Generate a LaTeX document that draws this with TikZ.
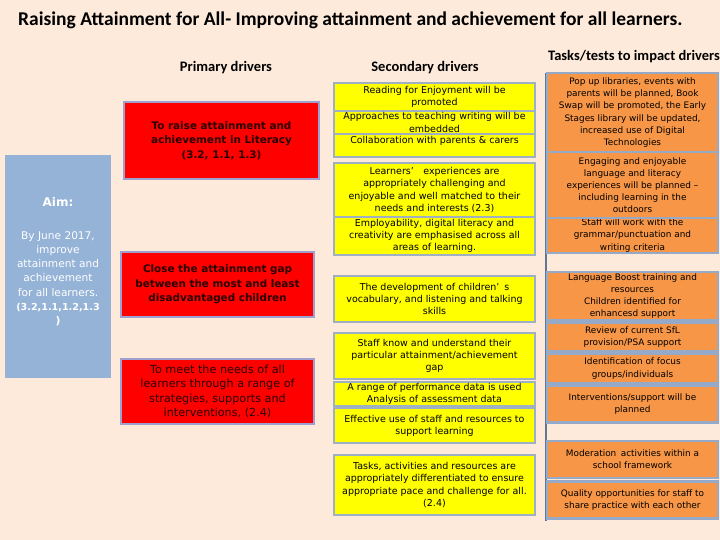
\documentclass[tikz,border=0pt]{standalone}
\usepackage{fontspec}
\setmainfont{DejaVu Sans}
\newfontfamily\carlito{Carlito}
\definecolor{bgpeach}{RGB}{253,234,219}
\definecolor{aimblue}{RGB}{149,179,215}
\definecolor{redfill}{RGB}{255,0,0}
\definecolor{redline}{RGB}{160,160,208}
\definecolor{yelfill}{RGB}{255,255,0}
\definecolor{yelline}{RGB}{160,176,196}
\definecolor{orfill}{RGB}{247,150,70}
\definecolor{orline}{RGB}{148,170,200}
\definecolor{vline}{RGB}{100,118,145}
\definecolor{redtext}{RGB}{40,0,0}
\tikzset{
  headtext/.style={font=\carlito\bfseries\fontsize{14.5}{17}\selectfont, text=black, inner sep=0pt},
  aimbox/.style={fill=aimblue, draw=none, inner sep=0pt},
  aimtext/.style={align=center, text=white, inner sep=0pt, font=\fontsize{10.6}{14.2}\selectfont},
  redbox/.style={fill=redfill, draw=redline, line width=2.5pt, inner sep=0pt, align=center, text=redtext},
  redbold/.style={font=\bfseries\fontsize{10.4}{14.5}\selectfont},
  redplain/.style={font=\fontsize{11.2}{14.3}\selectfont},
  ybox/.style={fill=yelfill, draw=yelline, line width=2.5pt, inner sep=0pt, align=center, text=black, font=\fontsize{9.5}{12.2}\selectfont, minimum width=201pt},
  obox/.style={fill=orfill, draw=orline, line width=2.5pt, inner sep=0pt, align=center, text=black, font=\fontsize{8.9}{12.1}\selectfont, minimum width=171pt},
}
\begin{document}
\begin{tikzpicture}[x=1pt,y=-1pt]
\fill[bgpeach] (0,0) rectangle (720,540);
\useasboundingbox (0,0) rectangle (720,540);

% title and headers
\node[anchor=west, inner sep=0pt, font=\carlito\bfseries\fontsize{19.5}{22}\selectfont] (title) at (18,20)
  {Raising Attainment for All- Improving attainment and achievement for all learners.};
\node[headtext] (hprim) at (226,68) {Primary drivers};
\node[headtext] (hsec) at (425,68) {Secondary drivers};
\node[headtext, anchor=west] (htask) at (548,57) {Tasks/tests to impact drivers};

% aim
\node[aimbox, minimum width=106pt, minimum height=223pt] (aim) at (58,266.5) {};
\node[aimtext] (aimt) at (58,261.5) {{\bfseries\fontsize{12}{14.2}\selectfont Aim:}\\[19pt]
  By June 2017,\\ improve\\ attainment and\\ achievement\\ for all learners.\\
  {\bfseries\fontsize{9.6}{14.2}\selectfont (3.2,1.1,1.2,1.3}\\ {\bfseries )}};

% primary drivers
\node[redbox, redbold, minimum width=195pt, minimum height=77pt] (p1) at (221.5,140.5)
  {To raise attainment and\\ achievement in Literacy\\ (3.2, 1.1, 1.3)};
\node[redbox, redbold, minimum width=193pt, minimum height=65pt] (p2) at (217.5,284.5)
  {Close the attainment gap\\ between the most and least\\ disadvantaged children};
\node[redbox, redplain, minimum width=193pt, minimum height=65pt] (p3) at (217.5,391.5)
  {To meet the needs of all\\ learners through a range of\\ strategies, supports and\\ interventions, (2.4)};

% secondary drivers
\node[ybox, minimum height=28pt] (sa) at (434.5,97) {Reading for Enjoyment will be\\ promoted};
\node[ybox, minimum height=23pt] (sb) at (434.5,122.5) {Approaches to teaching writing will be\\ embedded};
\node[ybox, minimum height=23pt] (sc) at (434.5,145.5) {};
\node[inner sep=0pt, font=\fontsize{9.5}{12.2}\selectfont] (sct) at (434.5,141) {Collaboration with parents \& carers};
\node[ybox, minimum height=54pt] (sd) at (434.5,190)
  {Learners'\quad experiences are\\ appropriately challenging and\\ enjoyable and well matched to their\\ needs and interests (2.3)};
\node[ybox, minimum height=38pt] (se) at (434.5,236)
  {Employability, digital literacy and\\ creativity are emphasised across all\\ areas of learning.};
\node[ybox, minimum height=46pt] (sf) at (434.5,299)
  {The development of children'\enspace s\\ vocabulary, and listening and talking\\ skills};
\node[ybox, minimum height=46pt] (sg) at (434.5,356)
  {Staff know and understand their\\ particular attainment/achievement\\ gap};
\node[ybox, minimum height=24pt] (sh) at (434.5,394)
  {A range of performance data is used\\ Analysis of assessment data};
\node[ybox, minimum height=35pt] (si) at (434.5,425.5)
  {Effective use of staff and resources to\\ support learning};
\node[ybox, minimum height=60pt] (sj) at (434.5,485)
  {Tasks, activities and resources are\\ appropriately differentiated to ensure\\ appropriate pace and challenge for all.\\ (2.4)};

% tasks
\coordinate (vtop) at (546,73);
\coordinate (vbot) at (546,521);
\draw[vline, line width=1.2pt] (vtop) -- (vbot);
\node[obox, minimum height=79pt] (t1) at (632.5,112.5)
  {Pop up libraries, events with\\ parents will be planned, Book\\ Swap will be promoted, the Early\\ Stages library will be updated,\\ increased use of Digital\\ Technologies};
\node[obox, minimum height=35pt] (t3) at (632.5,235.5)
  {Staff will work with the\\ grammar/punctuation and\\ writing criteria};
\node[obox, minimum height=66pt] (t2) at (632.5,185)
  {Engaging and enjoyable\\ language and literacy\\ experiences will be planned --\\ including learning in the\\ outdoors};
\node[obox, minimum height=48pt] (t4) at (632.5,296)
  {Language Boost training and\\ resources\\ Children identified for\\ enhancesd support};
\node[obox, minimum height=29pt] (t5) at (632.5,337)
  {Review of current SfL\\ provision/PSA support};
\node[obox, minimum height=30pt] (t6) at (632.5,368.5)
  {Identification of focus\\ groups/individuals};
\node[obox, minimum height=37pt] (t7) at (632.5,404)
  {Interventions/support will be\\ planned};
\node[obox, minimum height=37pt] (t8) at (632.5,459.5)
  {Moderation\enspace activities within a\\ school framework};
\node[obox, minimum height=37pt] (t9) at (632.5,500)
  {Quality opportunities for staff to\\ share practice with each other};
\end{tikzpicture}
\end{document}
